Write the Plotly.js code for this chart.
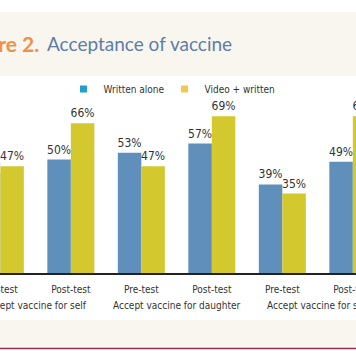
<!DOCTYPE html>
<html>
<head>
<meta charset="utf-8">
<script src="https://cdn.plot.ly/plotly-3.0.1.min.js"></script>
<style>
  html, body { margin: 0; padding: 0; background: #ffffff; }
  #chart { width: 356px; height: 364px; }
</style>
</head>
<body>
<div id="chart"></div>
<script>
// ---- data ----
const groups = ['Accept vaccine for self', 'Accept vaccine for self',
                'Accept vaccine for daughter', 'Accept vaccine for daughter',
                'Accept vaccine for son', 'Accept vaccine for son'];
const phases = ['Pre-test', 'Post-test', 'Pre-test', 'Post-test', 'Pre-test', 'Post-test'];
const writtenAlone = [44, 50, 53, 57, 39, 49];
const videoWritten = [47, 66, 47, 69, 35, 69];
const seriesNames = ['Written alone', 'Video + written'];

// ---- style ----
const FONT = '"DejaVu Sans Condensed", "DejaVu Sans", sans-serif';
const BLUE = '#5f8fba';
const YELLOW = '#d3c82e';
const LEG_BLUE = '#229fcb';
const LEG_YELLOW = '#f2c94e';
const CREAM = '#f9f6f0';

const W = 356, H = 364;
const axisY = 273, topY = 76;
const plotH = axisY - topY;
const py = (pix) => (axisY - pix) / plotH; // pixel row -> paper y

const pct = (arr) => arr.map(v => v + '%');
const xIdx = phases.map((_, i) => i);           // category slots on the x axis
const groupNames = [...new Set(groups)];
const groupMid = groupNames.map(g => {
  const idx = xIdx.filter(i => groups[i] === g);
  return idx.reduce((a, b) => a + b, 0) / idx.length;
});

const traces = [
  {
    type: 'bar', name: seriesNames[0], x: xIdx, y: writtenAlone,
    marker: { color: BLUE }, text: pct(writtenAlone), textposition: 'outside',
    textfont: { family: FONT, size: 12, color: '#333333' },
    constraintext: 'none', cliponaxis: true, showlegend: false, hoverinfo: 'skip'
  },
  {
    type: 'bar', name: seriesNames[1], x: xIdx, y: videoWritten,
    marker: { color: YELLOW }, text: pct(videoWritten), textposition: 'outside',
    textfont: { family: FONT, size: 12, color: '#333333' },
    constraintext: 'none', cliponaxis: true, showlegend: false, hoverinfo: 'skip'
  },
  {
    type: 'scatter', mode: 'markers', name: seriesNames[0], x: [xIdx[0]], y: [null],
    marker: { symbol: 'square', size: 7, color: LEG_BLUE }, showlegend: true, hoverinfo: 'skip',
    legendwidth: 56
  },
  {
    type: 'scatter', mode: 'markers', name: seriesNames[1], x: [xIdx[0]], y: [null],
    marker: { symbol: 'square', size: 7, color: LEG_YELLOW }, showlegend: true, hoverinfo: 'skip'
  }
];

const layout = {
  width: W, height: H,
  margin: { l: 0, r: 0, t: topY, b: H - axisY, pad: 0 },
  paper_bgcolor: '#ffffff', plot_bgcolor: 'rgba(0,0,0,0)',
  barmode: 'group', bargap: 0.333, bargroupgap: 0,
  font: { family: FONT, size: 10, color: '#333333' },
  xaxis: {
    type: 'linear', range: [-0.005, 5.045], autorange: false,
    tickmode: 'array', tickvals: xIdx, ticktext: phases,
    showline: true, linecolor: '#222222', linewidth: 1.5,
    ticks: '', ticklabelstandoff: 6, ticklabeloverflow: 'allow',
    showgrid: false, zeroline: false,
    tickfont: { family: FONT, size: 10, color: '#333333' }
  },
  yaxis: {
    range: [0, plotH / 2.27], autorange: false, visible: false,
    showgrid: false, zeroline: false
  },
  legend: {
    orientation: 'h', x: 63.5 / W, xanchor: 'left', y: py(89), yanchor: 'middle',
    font: { family: FONT, size: 10, color: '#333333' },
    bgcolor: 'rgba(0,0,0,0)', itemwidth: 30, tracegroupgap: 0
  },
  shapes: [
    { type: 'rect', xref: 'paper', yref: 'paper', x0: 0, x1: 1, y0: py(76), y1: py(12),
      fillcolor: CREAM, line: { width: 0 }, layer: 'below' },
    { type: 'rect', xref: 'paper', yref: 'paper', x0: 0, x1: 1, y0: py(348), y1: py(320),
      fillcolor: CREAM, line: { width: 0 }, layer: 'below' },
    { type: 'line', xref: 'paper', yref: 'paper', x0: 0, x1: 1, y0: py(348.5), y1: py(348.5),
      line: { color: '#8e2d50', width: 1.5 } }
  ],
  annotations: [
    { xref: 'paper', yref: 'paper', x: 41 / W, y: py(44), xanchor: 'right', yanchor: 'middle',
      text: '<b>Figure 2.</b>', showarrow: false,
      font: { family: 'Lato, "Noto Sans", sans-serif', size: 21, color: '#f0914a' } },
    { xref: 'paper', yref: 'paper', x: 45 / W, y: py(44), xanchor: 'left', yanchor: 'middle',
      text: 'Acceptance of vaccine', showarrow: false,
      font: { family: 'Lato, "Noto Sans", sans-serif', size: 19, color: '#5b7fa8' } }
  ].concat(groupNames.map((g, k) => ({
      xref: 'x', yref: 'paper', x: groupMid[k], y: py(305), xanchor: 'center', yanchor: 'middle',
      text: g, showarrow: false,
      font: { family: FONT, size: 10, color: '#333333' }
  })))
};

Plotly.newPlot('chart', traces, layout, { staticPlot: true, displayModeBar: false });
</script>
</body>
</html>
